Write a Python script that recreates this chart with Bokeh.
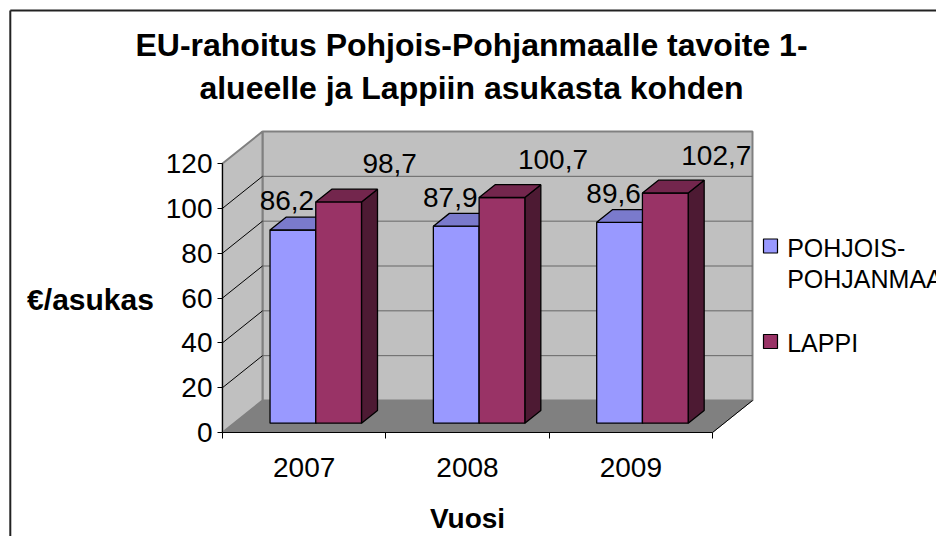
from bokeh.plotting import figure
from bokeh.models import Range1d, LinearAxis, FixedTicker, Label, ColumnDataSource
from bokeh.core.properties import value
from bokeh.embed import file_html
from bokeh.resources import INLINE

# ---------------- data ----------------
years = ["2007", "2008", "2009"]
series_names = ["POHJOIS-\nPOHJANMAA", "LAPPI"]
pohjois_pohjanmaa = [86.2, 87.9, 89.6]
lappi = [98.7, 100.7, 102.7]
y_ticks = [0, 20, 40, 60, 80, 100, 120]
y_max = 120
title_lines = ["EU-rahoitus Pohjois-Pohjanmaalle tavoite 1-", "alueelle ja Lappiin asukasta kohden"]
y_title = "€/asukas"
x_title = "Vuosi"

# ---------------- styles ----------------
FONT = "Liberation Sans"
front_colors = ["#9999ff", "#993366"]
top_colors = ["#7a7acc", "#73264d"]
side_colors = ["#4d4d80", "#4d1a33"]

W, H = 936, 536
X0_PX, Y0_PX = 222, 432          # canvas px of the front-plane origin
CAT_PX = 490 / 3                 # px per category
UNIT_PX = 269 / 120              # px per value unit


def px2x(px):
    return (px - X0_PX) / CAT_PX


def px2y(py):
    return (Y0_PX - py) / UNIT_PX


DX = 40 / CAT_PX                 # depth offset (x units)
DY = 32 / UNIT_PX                # depth offset (value units)
ZF, ZB = 0.29, 0.69              # bar front / back depth
GAP, BW = 0.22, 0.28             # gap before cluster, bar width
n = len(years)


def proj(x, v, z):
    return x + z * DX, v + z * DY


p = figure(width=W, height=H,
           x_range=Range1d(px2x(0), px2x(W)), y_range=Range1d(px2y(H), px2y(0)),
           output_backend="svg", toolbar_location=None,
           x_axis_location=None, y_axis_location=None,
           min_border=0, outline_line_color=None,
           background_fill_color="white", border_fill_color="white")
p.grid.visible = False

# ---------------- walls & floor ----------------
walls = dict(
    xs=[[DX, n + DX, n + DX, DX],
        [0, DX, DX, 0]],
    ys=[[DY, DY, y_max + DY, y_max + DY],
        [0, DY, y_max + DY, y_max]],
)
p.patches("xs", "ys", source=ColumnDataSource(walls), fill_color="#c0c0c0",
          line_color="#808080", line_width=2)
floor = dict(xs=[[0, n, n + DX, DX]], ys=[[0, 0, DY, DY]])
p.patches("xs", "ys", source=ColumnDataSource(floor), fill_color="#808080",
          line_color="#808080", line_width=1)
p.segment(x0=[n], y0=[0], x1=[n + DX], y1=[DY], line_color="black", line_width=1)

grid_vals = [t for t in y_ticks if 0 < t < y_max]
p.segment(x0=[DX] * len(grid_vals), y0=[v + DY for v in grid_vals],
          x1=[n + DX] * len(grid_vals), y1=[v + DY for v in grid_vals],
          line_color="#666666", line_width=1)
p.segment(x0=[0] * len(grid_vals), y0=grid_vals,
          x1=[DX] * len(grid_vals), y1=[v + DY for v in grid_vals],
          line_color="black", line_width=1)

# ---------------- 3D bars ----------------
xs, ys, fills = [], [], []
for i in range(n):
    for s, vals in enumerate([pohjois_pohjanmaa, lappi]):
        v = vals[i]
        x0 = i + GAP + s * BW
        x1 = x0 + BW
        faces = [
            ([(x1, 0, ZF), (x1, 0, ZB), (x1, v, ZB), (x1, v, ZF)], side_colors[s]),
            ([(x0, 0, ZF), (x1, 0, ZF), (x1, v, ZF), (x0, v, ZF)], front_colors[s]),
            ([(x0, v, ZF), (x1, v, ZF), (x1, v, ZB), (x0, v, ZB)], top_colors[s]),
        ]
        for pts, col in faces:
            pp = [proj(*pt) for pt in pts]
            xs.append([q[0] for q in pp])
            ys.append([q[1] for q in pp])
            fills.append(col)
bars = ColumnDataSource(dict(xs=xs, ys=ys, fill=fills))
p.patches("xs", "ys", source=bars, fill_color="fill", line_color="black", line_width=1.3)

# ---------------- data labels ----------------
for s, vals in enumerate([pohjois_pohjanmaa, lappi]):
    lx, ly, lt = [], [], []
    for i, v in enumerate(vals):
        x0 = i + GAP + s * BW
        cx, cy = proj(x0 + BW / 2, v, ZF)
        lx.append(cx)
        ly.append(cy)
        lt.append(f"{v:.1f}".replace(".", ","))
    p.text(x=lx, y=ly, text=lt, text_align="center", text_baseline="middle",
           x_offset=(-6 if s == 0 else 51), y_offset=(-29 if s == 0 else -38),
           text_font=value(FONT), text_font_size="28px", text_color="black")

# ---------------- axes ----------------
yaxis = LinearAxis(fixed_location=0, bounds=(0, y_max),
                   ticker=FixedTicker(ticks=y_ticks))
yaxis.axis_line_color = "black"
yaxis.major_tick_in = 0
yaxis.major_tick_out = 5
yaxis.minor_tick_line_color = None
yaxis.major_label_standoff = 5
yaxis.major_label_text_font = FONT
yaxis.major_label_text_font_size = "28px"
yaxis.major_label_text_color = "black"
p.add_layout(yaxis, "left")

xaxis = LinearAxis(fixed_location=0, bounds=(0, n),
                   ticker=FixedTicker(ticks=[i + 0.5 for i in range(n)],
                                      minor_ticks=list(range(n + 1))))
xaxis.major_label_overrides = {i + 0.5: y for i, y in enumerate(years)}
xaxis.axis_line_color = "black"
xaxis.major_tick_in = 0
xaxis.major_tick_out = 0
xaxis.minor_tick_in = 0
xaxis.minor_tick_out = 6
xaxis.minor_tick_line_color = "black"
xaxis.major_label_standoff = 19
xaxis.major_label_text_font = FONT
xaxis.major_label_text_font_size = "28px"
xaxis.major_label_text_color = "black"
xaxis.axis_label = x_title
xaxis.axis_label_standoff = 23
xaxis.axis_label_text_font = FONT
xaxis.axis_label_text_font_size = "28px"
xaxis.axis_label_text_font_style = "bold"
xaxis.axis_label_text_color = "black"
p.add_layout(xaxis, "below")

# ---------------- titles ----------------
p.add_layout(Label(x=px2x(471), y=px2y(44), text=title_lines[0], text_align="center",
                   text_baseline="middle", text_font=FONT, text_font_size="32px",
                   text_font_style="bold", text_color="black"))
p.add_layout(Label(x=px2x(471), y=px2y(87), text=title_lines[1], text_align="center",
                   text_baseline="middle", text_font=FONT, text_font_size="32px",
                   text_font_style="bold", text_color="black"))
p.add_layout(Label(x=px2x(90), y=px2y(299), text=y_title, text_align="center",
                   text_baseline="middle", text_font=FONT, text_font_size="30px",
                   text_font_style="bold", text_color="black"))

# ---------------- legend ----------------
leg_sq_x = [px2x(770)] * 2
leg_sq_y = [px2y(245.5), px2y(341)]
p.rect(x=leg_sq_x, y=leg_sq_y, width=14, height=14, width_units="screen",
       height_units="screen", fill_color=front_colors, line_color="black", line_width=1.2)
p.text(x=[px2x(786.7)] * 2, y=[px2y(233.3), px2y(328.3)], text=series_names,
       text_align="left", text_baseline="top", text_line_height=1.1,
       text_font=value(FONT), text_font_size="25px", text_color="black")

# ---------------- chart border (left and top edges; the rest runs off-page) ----------------
bx, by = px2x(9.8), px2y(10)
p.multi_line(xs=[[bx, bx], [bx, px2x(W)]], ys=[[px2y(H), by], [by, by]],
             line_color="#222222", line_width=2)

open("out.html", "w").write(file_html(p, INLINE))
